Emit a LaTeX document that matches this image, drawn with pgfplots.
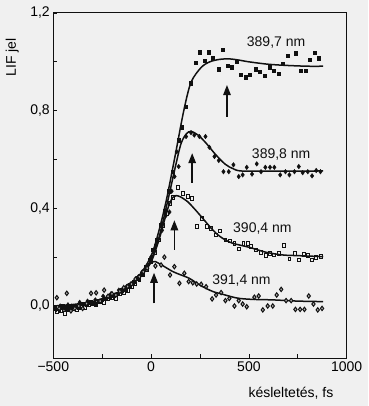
\documentclass[border=0pt]{standalone}
\usepackage{pgfplots}
\pgfplotsset{compat=1.18}
\usetikzlibrary{arrows.meta}
\usepackage{fontspec}
\setmainfont{Liberation Sans}
\definecolor{bg}{HTML}{F0F0F0}
\definecolor{ink}{HTML}{101010}

\begin{document}
\begin{tikzpicture}
\fill[bg] (-53.3pt,-48pt) rectangle (314.7pt,358pt);
\useasboundingbox (-53.3pt,-48pt) rectangle (314.7pt,358pt);
\begin{axis}[
  scale only axis, width=293.4pt, height=345pt,
  xmin=-500, xmax=1000, ymin=-0.213, ymax=1.2,
  clip=false,
  axis line style={line width=1pt, ink},
  tick align=inside, xtick pos=bottom, ytick pos=left,
  xtick={-500,0,500,1000}, minor xtick={-250,250,750},
  xticklabels={−500,0,500,1000},
  ytick={0,0.4,0.8,1.2}, minor ytick={0.2,0.6,1.0},
  yticklabels={{0,0},{0,4},{0,8},{1,2}},
  major tick length=4pt, minor tick length=4pt,
  tick style={line width=0.8pt, ink},
  font=\fontsize{14}{16}\selectfont,
  xlabel={késleltetés, fs},
  xlabel style={at={(axis description cs:0.81,-0.101)}, anchor=center},
  ylabel={LIF jel},
  ylabel style={at={(axis description cs:-0.14,0.872)}, anchor=center},
  every axis plot/.append style={ink},
]
% curves
\addplot[smooth, line width=1.5pt] coordinates {
(-500,0.0) (-400,0.006) (-300,0.018) (-200,0.04) (-150,0.058) (-100,0.088) (-50,0.135)
(0,0.205) (34,0.29) (77,0.43) (124,0.62) (167,0.80) (204,0.916) (256,0.977) (300,1.0)
(350,1.01) (400,1.012) (450,1.007) (500,1.0) (600,0.99) (700,0.985) (800,0.982) (880,0.982)};
\addplot[smooth, line width=1.5pt] coordinates {
(-100,0.086) (-50,0.13) (0,0.19) (40,0.28) (85,0.43) (124,0.57) (153,0.665) (180,0.705)
(204,0.715) (240,0.70) (280,0.668) (330,0.62) (380,0.58) (420,0.562) (460,0.553)
(600,0.552) (880,0.553)};
\addplot[smooth, line width=1.5pt] coordinates {
(-100,0.084) (-50,0.125) (0,0.18) (40,0.27) (68,0.35) (90,0.41) (111,0.445) (128,0.452)
(150,0.447) (187,0.427) (225,0.395) (264,0.359) (300,0.325) (332,0.298) (370,0.275)
(417,0.257) (503,0.24) (588,0.22) (673,0.209) (758,0.206) (880,0.202)};
\addplot[smooth, line width=1.5pt] coordinates {
(-100,0.085) (-50,0.135) (-20,0.165) (10,0.181) (22,0.182) (60,0.165) (111,0.141)
(150,0.128) (196,0.113) (240,0.09) (281,0.072) (320,0.058) (366,0.048) (410,0.038)
(451,0.031) (520,0.027) (622,0.025) (750,0.02) (880,0.018)};

% 389.7 nm  filled squares
\addplot[only marks, mark=square*, mark size=1.8pt, mark options={xscale=0.8}] coordinates {
(-490,-0.01) (-470,-0.02) (-450,0.0) (-430,-0.01) (-410,-0.005) (-390,0.0) (-370,-0.005)
(-350,0.01) (-330,0.005) (-310,0.015) (-290,0.01) (-270,0.02) (-250,0.025) (-230,0.03)
(-210,0.04) (-190,0.045) (-170,0.05) (-150,0.065) (-130,0.07) (-110,0.085) (-90,0.1)
(-70,0.115) (-50,0.13) (-30,0.16) (-10,0.19) (10,0.23) (30,0.27) (50,0.33) (70,0.39)
(90,0.47) (110,0.55) (140,0.68) (158,0.732) (175,0.817) (204,0.913) (230,0.997)
(247,1.04) (272,1.005) (295,1.04) (315,1.015) (346,0.97) (366,1.049) (392,0.984)
(414,0.978) (438,1.001) (460,0.947) (482,0.937) (506,0.947) (533,0.97) (554,0.96)
(579,0.943) (605,0.978) (627,0.964) (651,0.951) (673,0.992) (698,1.025) (738,1.036)
(767,0.964) (789,0.964) (809,1.008) (835,1.038) (857,1.015)};

% 389.8 nm  filled diamonds
\addplot[only marks, mark=diamond*, mark size=2.3pt] coordinates {
(-485,-0.015) (-465,0.0) (-445,-0.01) (-425,0.005) (-405,0.0) (-385,-0.005) (-365,0.015)
(-345,0.005) (-325,0.02) (-305,0.01) (-285,0.025) (-265,0.02) (-245,0.04) (-225,0.035)
(-205,0.05) (-185,0.045) (-165,0.065) (-145,0.06) (-125,0.08) (-105,0.09) (-85,0.1)
(-65,0.12) (-45,0.14) (-25,0.16) (0,0.2) (25,0.25) (56,0.31) (75,0.37) (94,0.385)
(105,0.47) (120,0.53) (131,0.632) (141,0.571) (179,0.694) (204,0.71) (221,0.70)
(247,0.694) (278,0.694) (298,0.65) (324,0.612) (346,0.596) (370,0.55) (397,0.55)
(421,0.578) (448,0.53) (468,0.537) (489,0.568) (516,0.54) (540,0.582) (562,0.55)
(584,0.568) (608,0.568) (630,0.568) (660,0.537) (687,0.55) (707,0.537) (733,0.55)
(755,0.571) (775,0.546) (801,0.55) (823,0.533) (844,0.555) (866,0.55)};

% 390.4 nm  open squares
\addplot[only marks, mark=square, mark size=1.8pt, mark options={xscale=0.8, line width=0.8pt, fill=bg}] coordinates {
(-480,-0.025) (-460,-0.02) (-440,-0.03) (-420,-0.015) (-400,-0.01) (-380,-0.015)
(-360,0.0) (-340,-0.005) (-320,0.005) (-300,0.01) (-280,0.005) (-260,0.02) (-240,0.015)
(-220,0.03) (-200,0.035) (-180,0.03) (-160,0.05) (-140,0.055) (-120,0.065) (-100,0.08)
(-80,0.09) (-60,0.11) (-40,0.13) (-20,0.15) (0,0.18) (20,0.22) (40,0.27) (60,0.33)
(80,0.38) (95,0.42) (111,0.444) (136,0.485) (162,0.462) (187,0.448) (210,0.441)
(235,0.325) (261,0.359) (284,0.325) (307,0.318) (332,0.291) (353,0.307) (380,0.27)
(404,0.266) (426,0.257) (448,0.234) (472,0.257) (494,0.257) (511,0.243) (537,0.23)
(562,0.22) (588,0.206) (608,0.216) (630,0.209) (652,0.216) (681,0.247) (707,0.193)
(733,0.216) (755,0.189) (779,0.212) (801,0.206) (823,0.189) (844,0.198) (869,0.202)};

% 391.4 nm  diamonds
\addplot[only marks, mark=diamond*, mark size=2.2pt, mark options={line width=1pt, fill=gray!60}] coordinates {
(-482,0.034) (-470,-0.01) (-431,0.052) (-410,-0.02) (-390,-0.01) (-370,0.0) (-350,-0.01)
(-330,0.01) (-307,0.052) (-281,0.054) (-260,0.02) (-240,0.065) (-220,0.04) (-200,0.05)
(-180,0.045) (-160,0.06) (-140,0.075) (-120,0.08) (-100,0.09) (-80,0.11) (-60,0.12)
(-40,0.14) (-20,0.155) (22,0.164) (51,0.168) (68,0.2) (97,0.127) (119,0.161) (145,0.093)
(170,0.134) (192,0.1) (213,0.095) (233,0.09) (256,0.089) (281,0.079) (312,0.029)
(332,0.045) (358,0.055) (380,0.022) (400,0.031) (426,0.0) (448,0.022) (468,0.008)
(489,-0.003) (528,0.036) (550,0.041) (571,-0.016) (596,0.0) (622,0.0) (642,0.045)
(665,0.068) (690,0.022) (716,0.022) (738,-0.014) (762,-0.014) (784,-0.014) (806,0.041)
(830,0.008) (852,-0.016) (874,-0.01)};

% arrows
\addplot[line width=1.4pt, -{Triangle[length=10pt,width=7.5pt]}] coordinates {(388,0.776) (388,0.905)};
\addplot[line width=1.4pt, -{Triangle[length=10pt,width=7.5pt]}] coordinates {(210,0.504) (210,0.626)};
\addplot[line width=1.4pt, -{Triangle[length=10pt,width=7.5pt]}] coordinates {(119,0.231) (119,0.351)};
\addplot[line width=1.4pt, -{Triangle[length=10pt,width=7.5pt]}] coordinates {(15,0.011) (15,0.136)};

% labels
\node[ink] at (axis cs:639,1.079) {389,7 nm};
\node[ink] at (axis cs:665,0.619) {389,8 nm};
\node[ink] at (axis cs:569,0.316) {390,4 nm};
\node[ink] at (axis cs:462,0.104) {391,4 nm};
\end{axis}
\end{tikzpicture}
\end{document}
